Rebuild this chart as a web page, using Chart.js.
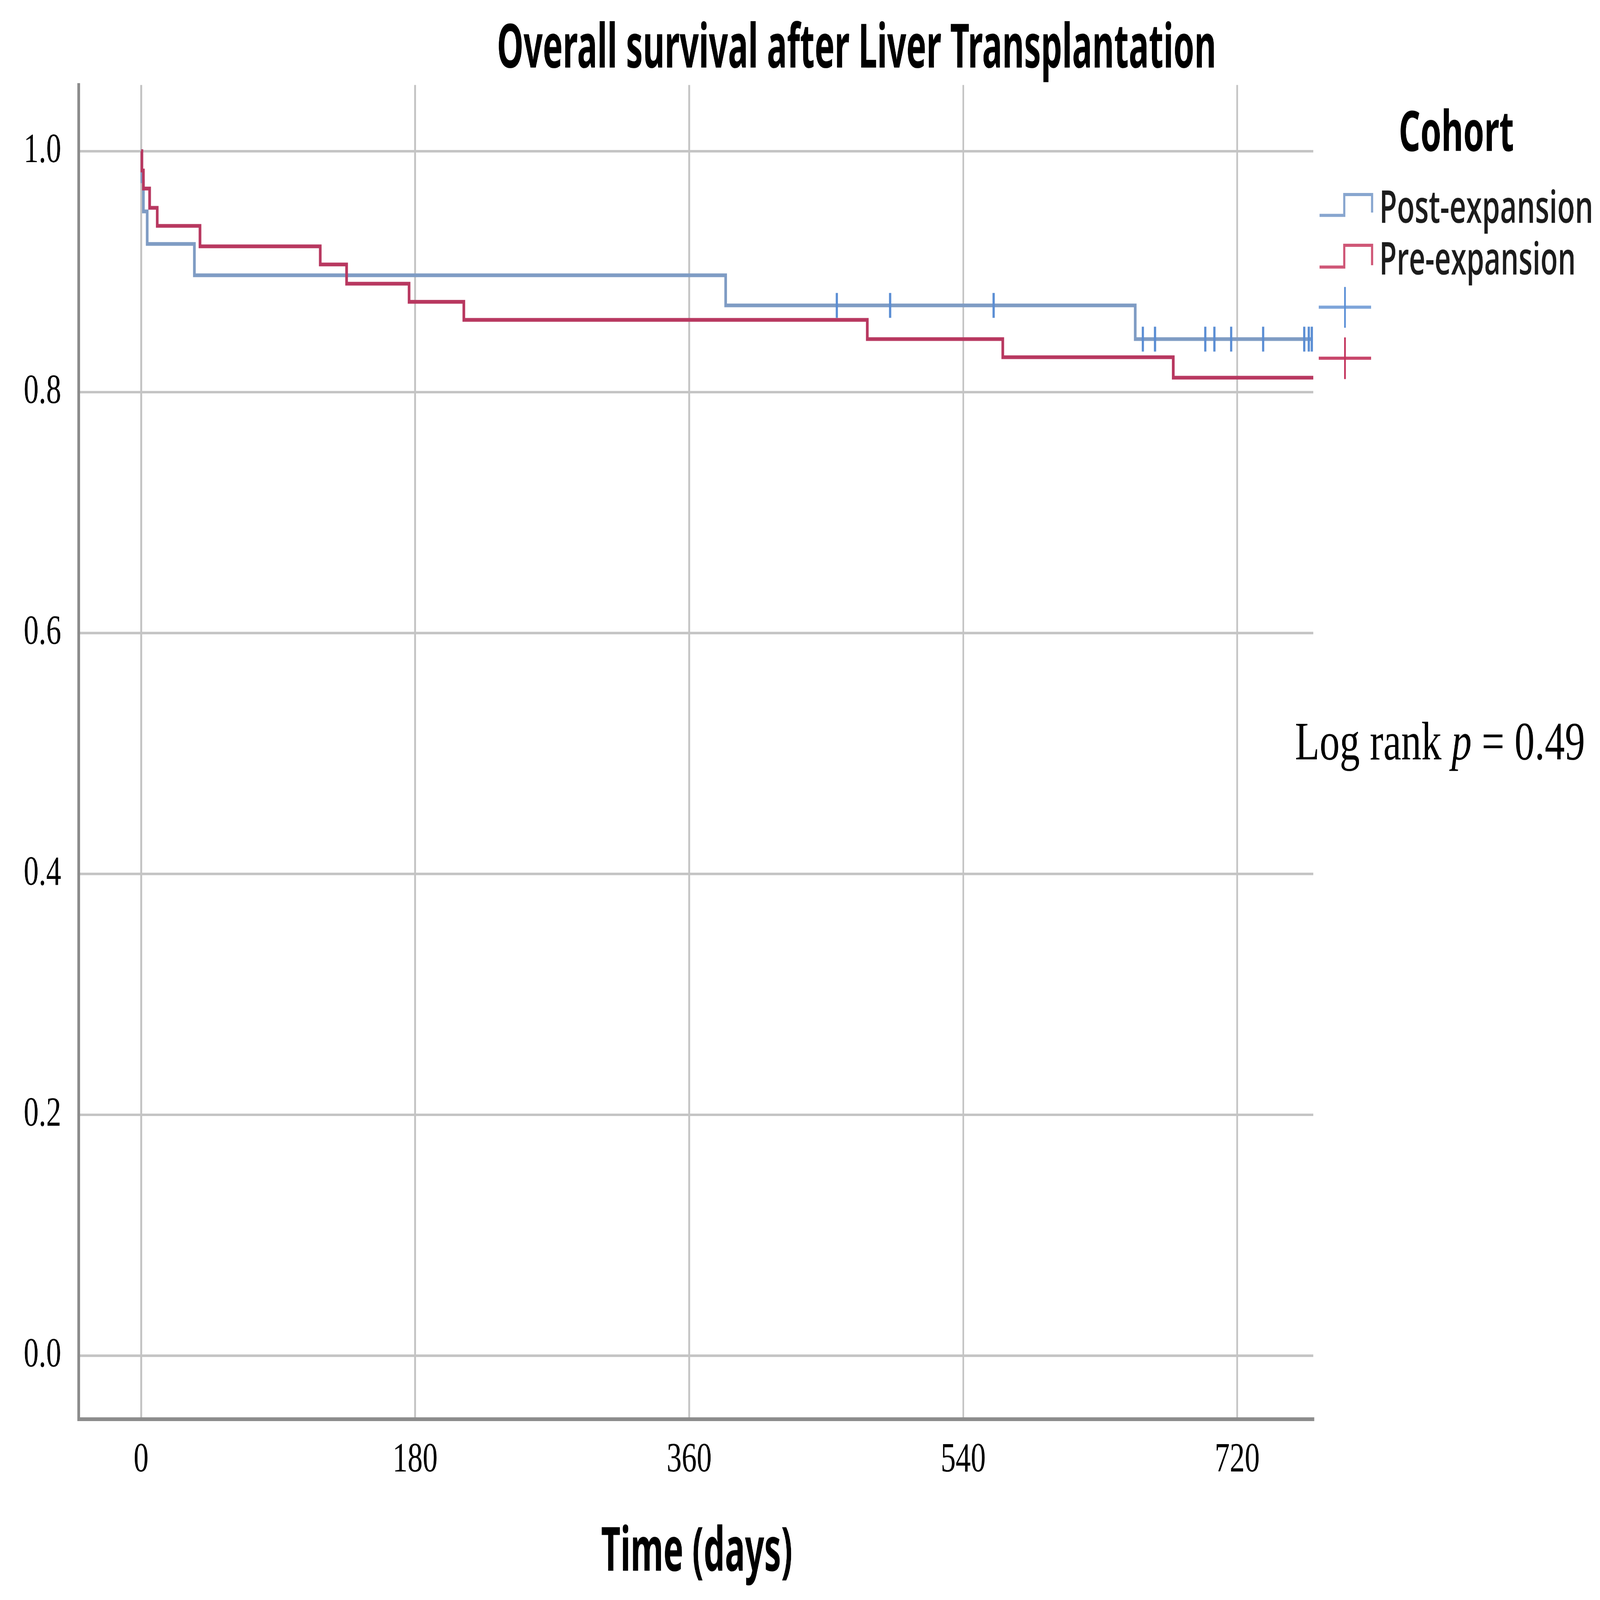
<!DOCTYPE html>
<html>
<head>
<meta charset="utf-8">
<title>Overall survival after Liver Transplantation</title>
<script src="https://cdn.jsdelivr.net/npm/chart.js@4.4.1/dist/chart.umd.min.js"></script>
<style>
  html, body { margin: 0; padding: 0; background: #fff; overflow: hidden; }
  canvas { display: block; }
</style>
</head>
<body>
<canvas id="kmChart" width="7139" height="5141" style="width:100vw;height:100vh"></canvas>
<script>
// Kaplan-Meier steps (days, cumulative survival)
const postTimes = [0, 0.5, 1.5, 4, 35, 384, 653, 769];
const postSurv  = [1.0, 0.975, 0.95, 0.923, 0.897, 0.872, 0.844, 0.844];
const postCensored = [457, 492, 560, 658, 666, 699, 705, 716, 737, 764, 767, 769];

const preTimes = [0, 0.5, 1.5, 5.6, 10.6, 38.7, 117.7, 135, 176, 212, 477, 566, 678, 770];
const preSurv  = [1.0, 0.984, 0.969, 0.953, 0.938, 0.921, 0.906, 0.890, 0.875, 0.860, 0.844, 0.829, 0.812, 0.812];

const xTicks = [0, 180, 360, 540, 720];
const yTicks = [0.0, 0.2, 0.4, 0.6, 0.8, 1.0];
const cohortLabels = ['Post-expansion', 'Pre-expansion'];

const BLUE = '#7f9cc4';
const RED = '#b83860';
const BLUE_MARK = '#5b8ed4';

function toPoints(times, surv) {
  return times.map((t, i) => ({ x: t, y: surv[i] }));
}

// value of the step curve at time t (to sit the censor ticks on the line)
function survAt(times, surv, t) {
  let s = surv[0];
  for (let i = 0; i < times.length; i++) {
    if (times[i] <= t) s = surv[i];
  }
  return s;
}

// draw text squeezed/stretched to the width it has in the figure
function fitText(ctx, text, font, x, y, width, align, color) {
  ctx.save();
  ctx.font = font;
  const w = ctx.measureText(text).width;
  ctx.translate(x, y);
  ctx.scale(width / w, 1);
  ctx.textAlign = align;
  ctx.textBaseline = 'alphabetic';
  ctx.fillStyle = color || '#000';
  ctx.fillText(text, 0, 0);
  ctx.restore();
}

function polyline(ctx, pts, color, width) {
  ctx.save();
  ctx.strokeStyle = color;
  ctx.lineWidth = width;
  ctx.lineJoin = 'miter';
  ctx.beginPath();
  ctx.moveTo(pts[0][0], pts[0][1]);
  for (let i = 1; i < pts.length; i++) ctx.lineTo(pts[i][0], pts[i][1]);
  ctx.stroke();
  ctx.restore();
}

const annotations = {
  id: 'annotations',
  afterDraw(chart) {
    const ctx = chart.ctx;

    fitText(ctx, 'Overall survival after Liver Transplantation', "bold 196px 'Noto Sans'", 3822, 217, 3209, 'center');
    fitText(ctx, 'Time (days)', "bold 195px 'Noto Sans'", 3109, 5047, 854, 'center');

    // legend
    fitText(ctx, 'Cohort', "bold 180px 'Noto Sans'", 6498, 485, 514, 'center');
    fitText(ctx, cohortLabels[0], "600 145px 'Open Sans'", 6154, 716, 955, 'left', '#1c1c1c');
    fitText(ctx, cohortLabels[1], "600 145px 'Open Sans'", 6154, 882, 877, 'left', '#1c1c1c');

    polyline(ctx, [[5888, 692], [5998, 692], [5998, 625], [6122, 625], [6122, 683]], '#88a6cf', 10);
    polyline(ctx, [[5888, 858], [5998, 858], [5998, 788], [6122, 788], [6122, 852]], '#cf5777', 10);

    polyline(ctx, [[5884, 987], [6118, 987]], '#7ea5da', 10);
    polyline(ctx, [[6001, 922], [6001, 1053]], '#5a8fd6', 8);
    polyline(ctx, [[5884, 1151], [6118, 1151]], '#c8486c', 10);
    polyline(ctx, [[6001, 1084], [6001, 1218]], '#c3325b', 8);

    // log rank annotation, italic p
    const parts = [
      { t: 'Log rank ', f: "174px 'Liberation Serif'" },
      { t: 'p', f: "italic 174px 'Liberation Serif'" },
      { t: ' = 0.49', f: "174px 'Liberation Serif'" }
    ];
    ctx.save();
    let total = 0;
    parts.forEach(p => { ctx.font = p.f; p.w = ctx.measureText(p.t).width; total += p.w; });
    ctx.translate(5778, 2440);
    ctx.scale(1294 / total, 1);
    ctx.fillStyle = '#000';
    ctx.textAlign = 'left';
    ctx.textBaseline = 'alphabetic';
    let cx = 0;
    parts.forEach(p => { ctx.font = p.f; ctx.fillText(p.t, cx, 0); cx += p.w; });
    ctx.restore();
  }
};

new Chart(document.getElementById('kmChart'), {
  type: 'line',
  data: {
    datasets: [
      {
        label: cohortLabels[0] + ' censored',
        type: 'scatter',
        data: postCensored.map(t => ({ x: t, y: survAt(postTimes, postSurv, t) })),
        showLine: false,
        pointStyle: 'line',
        rotation: 90,
        pointRadius: 40,
        pointBorderWidth: 10,
        pointBorderColor: BLUE_MARK,
        order: 0
      },
      {
        label: cohortLabels[1],
        data: toPoints(preTimes, preSurv),
        stepped: 'before',
        borderColor: RED,
        borderWidth: 12,
        pointRadius: 0,
        fill: false,
        order: 1
      },
      {
        label: cohortLabels[0],
        data: toPoints(postTimes, postSurv),
        stepped: 'before',
        borderColor: BLUE,
        borderWidth: 12,
        pointRadius: 0,
        fill: false,
        order: 2
      }
    ]
  },
  options: {
    responsive: false,
    devicePixelRatio: 1,
    animation: false,
    layout: { padding: { top: 273, right: 1279, left: 0, bottom: 0 } },
    plugins: {
      legend: { display: false },
      tooltip: { enabled: false },
      title: { display: false }
    },
    scales: {
      x: {
        type: 'linear',
        min: -41,
        max: 770,
        afterBuildTicks: s => { s.ticks = xTicks.map(v => ({ value: v })); },
        afterFit: s => { s.height = 581; },
        grid: { color: '#c4c4c4', lineWidth: 8, drawTicks: false },
        border: { color: '#8c8c8c', width: 12 },
        ticks: {
          font: { family: 'Liberation Serif', size: 134 },
          color: '#000',
          padding: 52,
          maxRotation: 0,
          autoSkip: false
        }
      },
      y: {
        type: 'linear',
        min: -0.0527,
        max: 1.055,
        afterBuildTicks: s => { s.ticks = yTicks.map(v => ({ value: v })); },
        afterFit: s => { s.width = 351; },
        grid: { color: '#c4c4c4', lineWidth: 8, drawTicks: false },
        border: { color: '#8c8c8c', width: 12 },
        ticks: {
          font: { family: 'Liberation Serif', size: 134 },
          color: '#000',
          padding: 78,
          callback: v => v.toFixed(1)
        }
      }
    }
  },
  plugins: [annotations]
});
</script>
</body>
</html>
